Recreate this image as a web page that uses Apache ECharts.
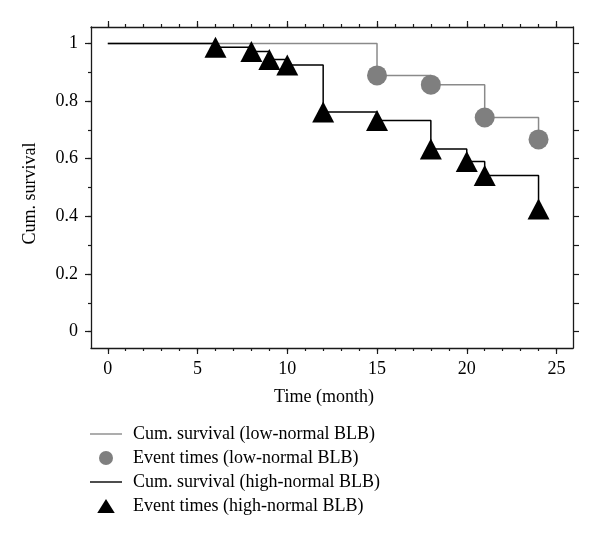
<!DOCTYPE html>
<html>
<head>
<meta charset="utf-8">
<script src="https://cdn.jsdelivr.net/npm/echarts@6/dist/echarts.min.js"></script>
<style>html,body{margin:0;padding:0;background:#fff}#c{width:600px;height:538px}</style>
</head>
<body>
<div id="c"></div>
<script>
// Data
var lowTimes = [0, 15, 18, 21, 24];
var lowSurv = [1, 0.889, 0.857, 0.743, 0.667];
var lowEventTimes = [15, 18, 21, 24];
var lowEventSurv = [0.889, 0.857, 0.743, 0.667];
var highTimes = [0, 6, 8, 9, 10, 12, 15, 18, 20, 21, 24];
var highSurv = [1, 0.987, 0.972, 0.944, 0.925, 0.762, 0.733, 0.634, 0.590, 0.542, 0.426];
var highEventTimes = [6, 8, 9, 10, 12, 15, 18, 20, 21, 24];
var highEventSurv = [0.987, 0.972, 0.944, 0.925, 0.762, 0.733, 0.634, 0.590, 0.542, 0.426];
var xMajorTicks = [0, 5, 10, 15, 20, 25];
var xMinorTicks = [0,1,2,3,4,5,6,7,8,9,10,11,12,13,14,15,16,17,18,19,20,21,22,23,24,25];
var yMajorTicks = [0, 0.2, 0.4, 0.6, 0.8, 1];
var yMinorTicks = [0, 0.1, 0.2, 0.3, 0.4, 0.5, 0.6, 0.7, 0.8, 0.9, 1];
var names = ['Cum. survival (low-normal BLB)', 'Event times (low-normal BLB)', 'Cum. survival (high-normal BLB)', 'Event times (high-normal BLB)'];

function zip(a, b) { return a.map(function (v, i) { return [v, b[i]]; }); }

var FONT = 'Liberation Serif';
var AX = '#1a1a1a';
var XMIN = -0.936, XMAX = 25.92, YMIN = -0.0566, YMAX = 1.057;
var LINE_ICON = 'path://M0,0h32v1.4h-32z';
var TRI_ICON = 'path://M7.5,0L15,12L0,12Z';

function xAx(pos, ticks, len, showLine, showLabel, extra) {
  var o = {
    type: 'value', position: pos, min: XMIN, max: XMAX,
    splitLine: { show: false },
    axisLine: { show: showLine, onZero: false, lineStyle: { color: AX, width: 1.3 } },
    axisTick: { show: true, inside: false, length: len, customValues: ticks, lineStyle: { color: AX, width: 1.2 } },
    axisLabel: { show: showLabel, customValues: xMajorTicks, margin: 12, color: '#000', fontFamily: FONT, fontSize: 18 }
  };
  for (var k in extra) o[k] = extra[k];
  return o;
}
function yAx(pos, ticks, len, showLine, showLabel, extra) {
  var o = {
    type: 'value', position: pos, min: YMIN, max: YMAX,
    splitLine: { show: false },
    axisLine: { show: showLine, onZero: false, lineStyle: { color: AX, width: 1.3 } },
    axisTick: { show: true, inside: false, length: len, customValues: ticks, lineStyle: { color: AX, width: 1.2 } },
    axisLabel: { show: showLabel, customValues: yMajorTicks, margin: 13, color: '#000', fontFamily: FONT, fontSize: 18 }
  };
  for (var k in extra) o[k] = extra[k];
  return o;
}

var chart = echarts.init(document.getElementById('c'), null, { renderer: 'canvas' });
chart.setOption({
  animation: false,
  backgroundColor: '#fff',
  grid: { left: 91, right: 27, top: 27, bottom: 190, containLabel: false },
  xAxis: [
    xAx('bottom', xMajorTicks, 6, true, true, {
      name: 'Time (month)', nameLocation: 'middle', nameGap: 40,
      nameTextStyle: { color: '#000', fontFamily: FONT, fontSize: 18, padding: [0, 16, 0, 0] }
    }),
    xAx('bottom', xMinorTicks, 3, false, false, {}),
    xAx('top', xMajorTicks, 6, true, false, {}),
    xAx('top', xMinorTicks, 3, false, false, {})
  ],
  yAxis: [
    yAx('left', yMajorTicks, 6, true, true, {
      name: 'Cum. survival', nameLocation: 'middle', nameGap: 52,
      nameTextStyle: { color: '#000', fontFamily: FONT, fontSize: 18, padding: [0, 12, 0, 0] }
    }),
    yAx('left', yMinorTicks, 3, false, false, {}),
    yAx('right', yMinorTicks, 6, true, false, {})
  ],
  legend: {
    orient: 'vertical', left: 85, top: 420,
    itemWidth: 32, itemHeight: 14, itemGap: 6,
    textStyle: { color: '#000', fontFamily: FONT, fontSize: 18, padding: [0, 0, 0, 6] },
    data: [
      { name: names[0], icon: LINE_ICON },
      { name: names[1], icon: 'circle' },
      { name: names[2], icon: LINE_ICON },
      { name: names[3], icon: TRI_ICON }
    ]
  },
  series: [
    {
      name: names[0], type: 'line', step: 'end', data: zip(lowTimes, lowSurv),
      symbol: 'none', lineStyle: { color: '#8a8a8a', width: 1.5 }, itemStyle: { color: '#8a8a8a' }, z: 2
    },
    {
      name: names[1], type: 'scatter', data: zip(lowEventTimes, lowEventSurv),
      symbol: 'circle', symbolSize: 20, itemStyle: { color: '#7f7f7f', opacity: 1 }, z: 3
    },
    {
      name: names[2], type: 'line', step: 'end', data: zip(highTimes, highSurv),
      symbol: 'none', lineStyle: { color: '#000', width: 1.5 }, itemStyle: { color: '#000' }, z: 4
    },
    {
      name: names[3], type: 'scatter', data: zip(highEventTimes, highEventSurv),
      symbol: 'triangle', symbolSize: [22, 21], itemStyle: { color: '#000', opacity: 1 }, z: 5
    }
  ]
});
</script>
</body>
</html>
